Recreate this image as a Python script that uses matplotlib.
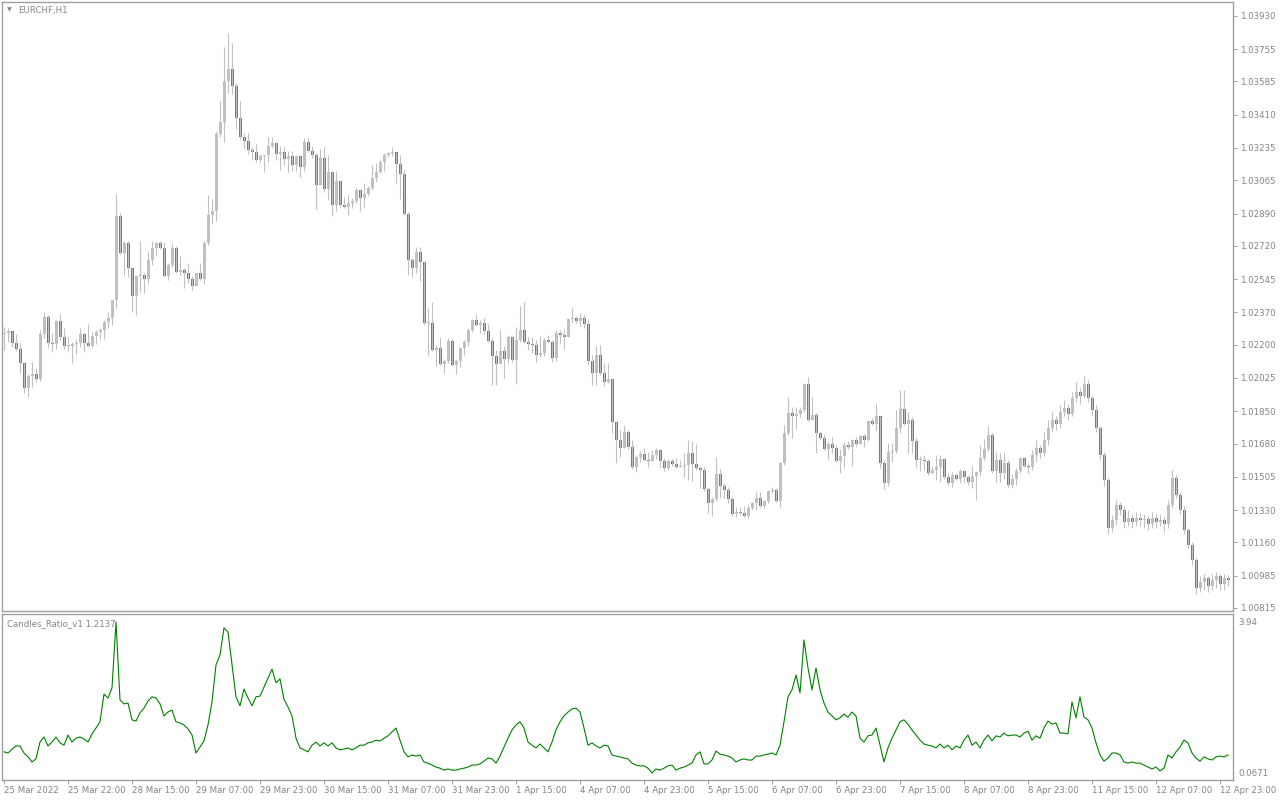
import numpy as np
import matplotlib.pyplot as plt

# EURCHF H1 candles, prices in points (1e-5)
first_open_pts = 102257
close_pts = [
    102262, 102273, 102209, 102178, 102104, 101972, 102035, 102046, 102020, 102257,
    102346, 102209, 102204, 102325, 102241, 102193, 102193, 102204, 102209, 102257,
    102209, 102193, 102246, 102267, 102278, 102319, 102341, 102435, 102877, 102683,
    102735, 102604, 102456, 102561, 102567, 102546, 102646, 102709, 102735, 102709,
    102561, 102620, 102709, 102582, 102593, 102577, 102546, 102509, 102577, 102546,
    102735, 102883, 102904, 103309, 103372, 103588, 103651, 103561, 103393, 103293,
    103272, 103225, 103214, 103172, 103193, 103199, 103245, 103261, 103204, 103214,
    103178, 103193, 103146, 103193, 103135, 103266, 103220, 103199, 103041, 103183,
    103020, 103108, 102936, 103062, 102936, 102925, 102946, 102957, 103014, 102972,
    102993, 103025, 103077, 103108, 103161, 103199, 103209, 103214, 103151, 103098,
    102888, 102646, 102604, 102688, 102635, 102314, 102314, 102172, 102183, 102099,
    102115, 102220, 102094, 102115, 102183, 102214, 102278, 102330, 102304, 102314,
    102273, 102220, 102140, 102099, 102167, 102125, 102241, 102120, 102225, 102278,
    102214, 102204, 102199, 102146, 102156, 102225, 102214, 102130, 102262, 102252,
    102241, 102336, 102341, 102325, 102341, 102309, 102115, 102051, 102146, 102051,
    102003, 102020, 101793, 101699, 101657, 101740, 101662, 101556, 101609, 101625,
    101593, 101588, 101620, 101646, 101588, 101551, 101588, 101572, 101556, 101561,
    101567, 101630, 101572, 101551, 101541, 101441, 101367, 101389, 101520, 101456,
    101436, 101389, 101309, 101319, 101314, 101298, 101341, 101367, 101394, 101351,
    101378, 101431, 101436, 101378, 101577, 101735, 101841, 101825, 101836, 101857,
    101993, 101804, 101831, 101735, 101709, 101652, 101678, 101657, 101588, 101614,
    101673, 101662, 101699, 101678, 101719, 101699, 101799, 101783, 101825, 101577,
    101472, 101635, 101641, 101762, 101862, 101783, 101804, 101694, 101593, 101593,
    101588, 101525, 101541, 101556, 101599, 101504, 101472, 101515, 101494, 101536,
    101504, 101477, 101509, 101530, 101604, 101652, 101725, 101536, 101593, 101525,
    101577, 101462, 101494, 101536, 101604, 101561, 101556, 101620, 101657, 101630,
    101699, 101762, 101804, 101783, 101846, 101867, 101836, 101920, 101951, 101930,
    101993, 101920, 101857, 101762, 101620, 101488, 101236, 101278, 101357, 101330,
    101267, 101288, 101267, 101288, 101278, 101283, 101257, 101288, 101267, 101278,
    101257, 101357, 101499, 101410, 101330, 101225, 101146, 101067, 100920, 100951,
    100972, 100930, 100962, 100983, 100941, 100972, 100962]
high_pts = [
    102293, 102288, 102273, 102257, 102209, 102104, 102046, 102109, 102078, 102278,
    102372, 102357, 102262, 102330, 102362, 102288, 102241, 102214, 102231, 102288,
    102267, 102309, 102267, 102278, 102288, 102330, 102372, 102435, 102993, 102893,
    102746, 102746, 102609, 102567, 102746, 102577, 102694, 102746, 102740, 102746,
    102740, 102630, 102735, 102719, 102673, 102604, 102630, 102561, 102577, 102630,
    102746, 102988, 102967, 103325, 103483, 103767, 103840, 103788, 103577, 103483,
    103314, 103314, 103240, 103256, 103204, 103199, 103293, 103293, 103266, 103245,
    103240, 103220, 103220, 103199, 103199, 103288, 103288, 103245, 103209, 103230,
    103240, 103199, 103114, 103114, 103067, 102977, 102988, 102972, 103025, 103020,
    103051, 103035, 103146, 103156, 103172, 103209, 103214, 103240, 103214, 103199,
    103119, 102898, 102657, 102714, 102714, 102641, 102393, 102424, 102199, 102241,
    102125, 102236, 102231, 102125, 102188, 102225, 102288, 102336, 102362, 102330,
    102341, 102309, 102236, 102172, 102278, 102193, 102252, 102246, 102293, 102403,
    102424, 102241, 102241, 102225, 102246, 102236, 102252, 102225, 102278, 102278,
    102278, 102336, 102393, 102351, 102367, 102357, 102330, 102146, 102193, 102199,
    102104, 102104, 102025, 101793, 101751, 101778, 101751, 101699, 101620, 101641,
    101657, 101635, 101646, 101657, 101652, 101604, 101599, 101599, 101604, 101593,
    101630, 101699, 101694, 101678, 101561, 101556, 101451, 101399, 101609, 101546,
    101472, 101451, 101399, 101346, 101346, 101351, 101357, 101372, 101425, 101425,
    101383, 101436, 101451, 101446, 101582, 101778, 101925, 101872, 101872, 101872,
    101998, 102030, 101925, 101841, 101746, 101725, 101688, 101714, 101673, 101652,
    101688, 101694, 101704, 101714, 101725, 101730, 101804, 101815, 101893, 101825,
    101593, 101683, 101683, 101857, 101962, 101962, 101846, 101820, 101709, 101614,
    101620, 101599, 101561, 101620, 101620, 101604, 101525, 101530, 101525, 101546,
    101541, 101515, 101561, 101536, 101673, 101704, 101772, 101735, 101635, 101630,
    101635, 101593, 101520, 101551, 101609, 101604, 101577, 101646, 101699, 101673,
    101740, 101804, 101846, 101825, 101883, 101909, 101888, 101951, 102003, 101972,
    102035, 102014, 101930, 101883, 101772, 101635, 101499, 101304, 101383, 101372,
    101351, 101330, 101309, 101319, 101314, 101309, 101298, 101319, 101309, 101309,
    101298, 101383, 101541, 101515, 101425, 101351, 101236, 101161, 101078, 100983,
    100994, 100983, 100994, 101004, 100994, 100994, 100988]
low_pts = [
    102172, 102214, 102188, 102167, 102051, 101946, 101925, 101977, 102003, 102009,
    102236, 102183, 102161, 102178, 102225, 102178, 102167, 102104, 102151, 102188,
    102161, 102188, 102188, 102204, 102231, 102231, 102288, 102304, 102393, 102678,
    102561, 102556, 102372, 102357, 102477, 102472, 102525, 102620, 102673, 102704,
    102556, 102541, 102609, 102577, 102567, 102499, 102525, 102488, 102509, 102541,
    102520, 102725, 102835, 102851, 103293, 103266, 103524, 103519, 103335, 103282,
    103230, 103204, 103172, 103161, 103156, 103108, 103161, 103235, 103172, 103119,
    103146, 103108, 103114, 103114, 103082, 103114, 103214, 103183, 102915, 103041,
    103003, 102962, 102877, 102904, 102925, 102920, 102883, 102920, 102946, 102904,
    102925, 102982, 103014, 103056, 103103, 103114, 103188, 103193, 103051, 102967,
    102883, 102567, 102556, 102577, 102536, 102304, 102146, 102167, 102088, 102094,
    102051, 102104, 102088, 102046, 102083, 102146, 102193, 102267, 102298, 102262,
    102257, 102214, 101988, 101988, 102099, 102025, 102104, 102109, 101993, 102214,
    102209, 102172, 102156, 102109, 102135, 102140, 102209, 102109, 102115, 102209,
    102178, 102241, 102319, 102314, 102298, 102288, 102094, 101988, 101988, 102041,
    101983, 101998, 101735, 101577, 101609, 101657, 101652, 101546, 101530, 101582,
    101588, 101556, 101588, 101599, 101556, 101536, 101541, 101561, 101551, 101556,
    101504, 101488, 101483, 101541, 101446, 101431, 101314, 101298, 101378, 101394,
    101394, 101367, 101298, 101293, 101304, 101293, 101288, 101330, 101330, 101346,
    101341, 101367, 101420, 101372, 101346, 101567, 101725, 101709, 101757, 101820,
    101846, 101799, 101809, 101630, 101699, 101646, 101599, 101630, 101582, 101525,
    101556, 101652, 101561, 101662, 101678, 101662, 101694, 101778, 101746, 101551,
    101441, 101456, 101582, 101630, 101735, 101778, 101630, 101630, 101556, 101536,
    101541, 101515, 101520, 101488, 101477, 101494, 101462, 101451, 101488, 101472,
    101477, 101462, 101446, 101383, 101509, 101593, 101641, 101525, 101477, 101477,
    101494, 101451, 101446, 101462, 101525, 101556, 101525, 101541, 101582, 101604,
    101614, 101673, 101740, 101751, 101762, 101825, 101804, 101825, 101899, 101888,
    101920, 101899, 101830, 101740, 101593, 101456, 101204, 101214, 101252, 101304,
    101236, 101246, 101236, 101246, 101246, 101236, 101225, 101236, 101236, 101246,
    101214, 101236, 101341, 101394, 101309, 101204, 101130, 101041, 100888, 100899,
    100909, 100899, 100909, 100920, 100909, 100909, 100930]

# Candles_Ratio_v1 indicator
ratio = [
    0.61, 0.58, 0.68, 0.76, 0.76, 0.58, 0.48, 0.35, 0.43, 0.86,
    0.99, 0.76, 0.86, 0.99, 0.84, 0.78, 1.04, 0.86, 0.96, 0.99,
    0.94, 0.86, 1.07, 1.22, 1.38, 2.09, 1.99, 2.25, 3.94, 1.94,
    1.84, 1.86, 1.43, 1.40, 1.61, 1.73, 1.91, 2.02, 1.99, 1.84,
    1.53, 1.63, 1.68, 1.38, 1.35, 1.30, 1.20, 1.04, 0.58, 0.73,
    0.89, 1.30, 1.89, 2.84, 3.09, 3.79, 3.68, 2.84, 2.02, 1.79,
    2.22, 1.99, 1.79, 2.02, 2.04, 2.27, 2.50, 2.73, 2.38, 2.48,
    1.96, 1.76, 1.53, 0.96, 0.71, 0.66, 0.61, 0.78, 0.86, 0.76,
    0.84, 0.76, 0.84, 0.71, 0.66, 0.68, 0.71, 0.66, 0.71, 0.78,
    0.78, 0.84, 0.86, 0.91, 0.89, 0.96, 1.02, 1.12, 1.22, 0.91,
    0.61, 0.48, 0.53, 0.50, 0.53, 0.35, 0.32, 0.27, 0.22, 0.19,
    0.14, 0.17, 0.14, 0.14, 0.17, 0.19, 0.22, 0.27, 0.27, 0.30,
    0.37, 0.45, 0.43, 0.32, 0.50, 0.73, 0.96, 1.17, 1.30, 1.38,
    1.22, 0.86, 0.78, 0.71, 0.81, 0.71, 0.61, 0.86, 1.17, 1.38,
    1.53, 1.63, 1.71, 1.73, 1.63, 1.22, 0.78, 0.84, 0.76, 0.71,
    0.78, 0.76, 0.53, 0.50, 0.48, 0.45, 0.43, 0.32, 0.27, 0.25,
    0.25, 0.19, 0.0671, 0.17, 0.14, 0.19, 0.25, 0.27, 0.14, 0.19,
    0.22, 0.27, 0.32, 0.53, 0.61, 0.30, 0.30, 0.40, 0.63, 0.55,
    0.53, 0.50, 0.45, 0.35, 0.40, 0.43, 0.40, 0.40, 0.50, 0.50,
    0.53, 0.55, 0.58, 0.53, 0.78, 1.38, 2.02, 2.20, 2.58, 2.12,
    3.48, 2.76, 2.20, 2.76, 2.20, 1.86, 1.63, 1.53, 1.43, 1.48,
    1.58, 1.50, 1.63, 1.53, 0.96, 0.86, 1.02, 1.04, 1.22, 0.78,
    0.35, 0.71, 0.96, 1.17, 1.38, 1.43, 1.32, 1.17, 1.04, 0.91,
    0.81, 0.78, 0.76, 0.71, 0.81, 0.71, 0.78, 0.66, 0.76, 0.71,
    0.91, 1.04, 0.78, 0.86, 0.71, 0.91, 1.04, 0.89, 1.02, 0.99,
    1.09, 1.02, 1.04, 1.04, 0.99, 1.09, 1.14, 0.91, 1.02, 0.96,
    1.22, 1.40, 1.32, 1.35, 1.09, 1.09, 1.07, 1.89, 1.48, 2.02,
    1.50, 1.43, 1.22, 0.84, 0.53, 0.37, 0.45, 0.58, 0.58, 0.53,
    0.35, 0.32, 0.35, 0.32, 0.32, 0.27, 0.22, 0.17, 0.22, 0.12,
    0.19, 0.53, 0.45, 0.61, 0.73, 0.91, 0.84, 0.58, 0.45, 0.37,
    0.48, 0.43, 0.40, 0.48, 0.50, 0.48, 0.53]

time_labels = ["25 Mar 2022", "25 Mar 22:00", "28 Mar 15:00", "29 Mar 07:00",
               "29 Mar 23:00", "30 Mar 15:00", "31 Mar 07:00", "31 Mar 23:00",
               "1 Apr 15:00", "4 Apr 07:00", "4 Apr 23:00", "5 Apr 15:00",
               "6 Apr 07:00", "6 Apr 23:00", "7 Apr 15:00", "8 Apr 07:00",
               "8 Apr 23:00", "11 Apr 15:00", "12 Apr 07:00", "12 Apr 23:00"]
label_step = 16
price_ticks = [1.03930, 1.03755, 1.03585, 1.03410, 1.03235, 1.03065, 1.02890,
               1.02720, 1.02545, 1.02370, 1.02200, 1.02025, 1.01850, 1.01680,
               1.01505, 1.01330, 1.01160, 1.00985, 1.00815]
ratio_min, ratio_max = 0.0671, 3.94

n = min(len(close_pts), len(high_pts), len(low_pts), len(ratio))
close = np.array(close_pts[:n]) / 1e5
high = np.array(high_pts[:n]) / 1e5
low = np.array(low_pts[:n]) / 1e5
opn = np.concatenate([[first_open_pts / 1e5], close[:-1]])
high = np.maximum(high, np.maximum(opn, close))
low = np.minimum(low, np.minimum(opn, close))
x = np.arange(n)

txt = '#858585'
frame = '#a0a0a0'
W, H = 1280, 800

fig = plt.figure(figsize=(12.8, 8), dpi=100)
ax = fig.add_axes([2 / W, 1 - 611 / H, 1231 / W, 609 / H])
ax2 = fig.add_axes([2 / W, 20 / H, 1231 / W, 166 / H])

# candles
ax.vlines(x, low, high, color='#c0c0c0', lw=0.8)
up = close >= opn
lo = np.minimum(opn, close)
hgt = np.maximum(np.abs(close - opn), 0.00004)
ax.bar(x[up], hgt[up], 0.75, bottom=lo[up], color='#c0c0c0', lw=0)
ax.bar(x[~up], hgt[~up], 0.75, bottom=lo[~up], color='#787878', lw=0)
ax.set_xlim(-0.5, 307.25)
ax.set_ylim(1.00799, 1.04003)
ax.yaxis.tick_right()
ax.set_yticks(price_ticks)
ax.set_yticklabels([f'{v:.5f}' for v in price_ticks])
ax.set_xticks([])
ax.tick_params(axis='y', direction='out', length=3, width=0.7, color=frame,
               labelcolor=txt, labelsize=6.2, pad=2)

# indicator
ax2.plot(x, ratio[:n], color='#008000', lw=0.8)
ax2.set_xlim(-0.5, 307.25)
ax2.set_ylim(ratio_min - 0.18, ratio_max + 0.205)
ax2.yaxis.tick_right()
ax2.set_yticks([ratio_min, ratio_max])
ax2.set_yticklabels(['0.0671', '3.94'])
ax2.tick_params(axis='y', length=0, labelcolor=txt, labelsize=6.2, pad=4)
ticks = np.arange(len(time_labels)) * label_step
ax2.set_xticks(ticks)
ax2.set_xticklabels(time_labels)
for lbl in ax2.get_xticklabels():
    lbl.set_horizontalalignment('left')
ax2.tick_params(axis='x', direction='out', length=3, width=0.7, color=frame,
                labelcolor=txt, labelsize=6.2, pad=1)

for a in (ax, ax2):
    for s in a.spines.values():
        s.set_color(frame)
        s.set_linewidth(1.0)

fig.text(7 / W, 1 - 10 / H, '\u25bc', fontsize=4.5, color=txt, va='center')
fig.text(18 / W, 1 - 10 / H, 'EURCHF,H1', fontsize=6.2, color=txt, va='center')
fig.text(7 / W, 1 - 624 / H, 'Candles_Ratio_v1 1.2137', fontsize=6.2,
         color=txt, va='center')

fig.savefig('out.png', dpi=100, facecolor='white')
